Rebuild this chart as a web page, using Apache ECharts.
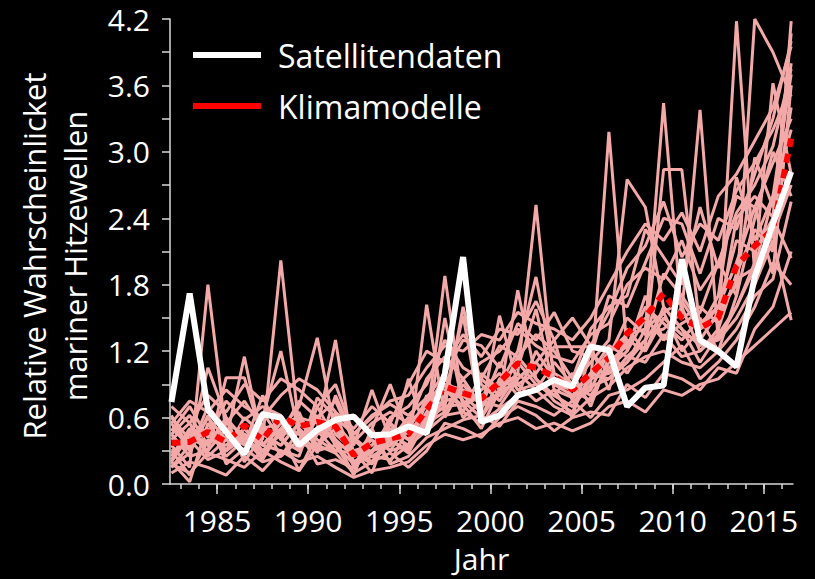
<!DOCTYPE html>
<html><head><meta charset="utf-8">
<script src="https://cdn.jsdelivr.net/npm/echarts@6/dist/echarts.min.js"></script>
<style>html,body{margin:0;padding:0;background:#000}#c{width:815px;height:579px}</style>
</head><body><div id="c"></div>
<script>
const years = [1982,1983,1984,1985,1986,1987,1988,1989,1990,1991,1992,1993,1994,1995,1996,1997,1998,1999,2000,2001,2002,2003,2004,2005,2006,2007,2008,2009,2010,2011,2012,2013,2014,2015,2016];
const satellite = [0.74,1.72,0.67,0.47,0.27,0.63,0.60,0.35,0.49,0.58,0.61,0.44,0.45,0.52,0.46,1.00,2.05,0.56,0.62,0.80,0.85,0.94,0.88,1.24,1.21,0.70,0.87,0.89,2.03,1.30,1.20,1.06,1.87,2.35,2.82];
const modelMean = [0.37,0.38,0.47,0.38,0.53,0.40,0.61,0.52,0.56,0.52,0.26,0.37,0.41,0.45,0.67,0.88,0.82,0.77,0.92,1.09,1.05,0.97,0.85,1.00,1.14,1.36,1.51,1.72,1.50,1.41,1.50,1.97,2.15,2.30,3.12];
const run01 = [0.35,0.15,1.80,0.45,0.30,0.55,0.25,0.40,0.62,0.35,0.10,0.45,0.30,0.55,0.70,0.95,0.75,0.60,0.85,1.10,0.90,0.80,0.70,0.95,1.00,1.30,1.20,1.60,1.40,1.10,1.35,4.18,1.90,2.40,3.40];
const run02 = [0.20,0.45,0.30,0.96,0.96,0.40,2.02,0.50,0.35,0.60,0.15,0.30,0.50,0.40,0.55,1.88,0.70,0.85,1.00,0.80,1.20,0.95,0.85,0.75,1.10,1.25,1.60,1.45,1.30,1.50,1.20,1.70,4.20,3.90,3.50];
const run03 = [0.55,0.30,0.60,0.40,1.15,0.35,0.50,0.70,1.32,0.45,0.30,0.20,0.45,0.35,0.80,0.70,1.60,0.90,0.75,1.00,2.52,0.90,0.80,1.00,0.95,1.10,1.30,1.90,1.70,1.45,1.60,2.20,2.10,2.40,2.04];
const run04 = [0.15,0.35,0.50,0.25,0.40,0.60,1.20,0.45,0.50,1.30,0.25,0.40,0.20,0.50,0.60,0.75,0.80,0.65,1.52,0.90,1.00,1.24,1.24,1.24,0.85,1.40,1.20,1.50,1.35,1.30,1.55,1.80,2.95,2.50,3.80];
const run05 = [0.30,0.08,0.40,0.35,0.50,0.30,0.45,0.12,0.45,0.55,0.35,0.85,0.40,0.30,1.62,0.60,0.90,0.70,0.80,1.75,0.95,0.80,0.70,0.90,3.18,1.20,1.50,1.30,1.60,1.20,1.40,1.90,2.30,2.10,4.18];
const run06 = [0.60,0.40,0.35,0.55,0.45,0.25,0.60,0.30,0.50,0.40,0.08,0.50,0.90,0.45,0.50,1.50,0.70,0.80,0.90,1.20,1.87,1.00,0.90,1.10,1.30,2.75,2.50,1.60,1.40,1.25,1.30,1.60,2.00,3.62,2.80];
const run07 = [0.25,0.50,0.45,0.30,0.60,0.45,0.35,0.55,0.40,0.30,0.40,0.25,0.35,0.95,0.45,0.80,1.52,0.60,0.95,1.05,1.58,0.85,0.60,1.20,1.00,1.10,1.40,3.44,1.50,1.60,1.45,2.40,2.60,2.41,4.07];
const run08 = [0.45,0.25,0.30,0.50,0.35,0.65,0.40,0.30,0.60,0.50,0.30,0.35,0.55,0.40,0.65,1.00,0.60,0.75,0.70,0.95,1.10,1.30,0.75,0.85,1.20,1.00,1.25,2.84,2.84,1.40,1.70,2.77,2.20,2.60,3.20];
const run09 = [0.40,0.55,0.25,0.40,0.30,0.50,0.55,0.45,0.30,0.65,0.20,0.30,0.40,0.60,0.55,0.65,0.95,0.70,1.10,0.85,0.90,0.80,1.00,0.70,1.15,1.50,1.35,1.40,1.55,3.38,1.30,1.50,1.80,2.20,1.48];
const run10 = [0.20,0.02,0.55,0.30,0.45,0.35,0.30,0.25,0.70,0.40,0.25,0.45,0.30,0.35,0.60,0.90,0.65,1.00,0.85,1.00,0.85,1.10,0.90,0.80,1.05,1.20,1.70,1.30,1.45,1.55,2.00,1.70,2.40,3.00,2.60];
const run11 = [0.50,0.35,1.05,0.60,0.40,0.30,0.45,0.60,0.35,0.50,0.30,0.10,0.55,0.30,0.75,0.85,0.70,0.95,0.80,1.15,0.95,0.75,0.65,1.00,1.25,1.15,1.30,1.55,1.20,1.40,1.60,2.00,2.50,1.90,3.60];
const run12 = [0.70,0.55,0.80,0.65,0.90,0.75,0.95,0.85,0.70,0.90,0.45,0.60,0.75,0.80,1.05,1.25,1.20,1.35,1.30,1.55,1.45,1.40,1.30,1.50,1.80,2.10,2.35,2.20,2.45,2.10,2.60,2.80,3.10,3.40,3.95];
const run13 = [0.10,0.20,0.15,0.08,0.25,0.12,0.30,0.20,0.25,0.15,0.06,0.12,0.15,0.20,0.35,0.45,0.40,0.45,0.55,0.60,0.50,0.55,0.48,0.55,0.70,0.75,0.65,0.85,0.80,0.90,0.95,1.10,1.25,1.40,1.55];
const run14 = [0.55,0.75,0.65,0.85,0.70,0.60,0.80,0.95,0.85,0.65,0.50,0.70,0.55,0.90,1.20,1.10,1.35,1.15,1.40,1.35,1.65,1.30,1.50,1.25,1.55,1.95,2.15,2.55,2.05,2.35,2.20,2.65,2.90,3.20,3.60];
const run15 = [0.18,0.10,0.28,0.22,0.15,0.30,0.20,0.12,0.35,0.28,0.10,0.20,0.28,0.15,0.30,0.55,0.50,0.42,0.60,0.70,0.62,0.48,0.60,0.65,0.62,0.90,0.78,1.00,0.95,0.85,1.05,1.00,1.40,1.60,2.10];
const run16 = [0.45,0.62,0.35,0.55,0.75,0.50,0.45,0.75,0.60,0.75,0.38,0.55,0.65,0.55,0.95,1.15,0.95,1.10,1.20,1.40,1.25,1.15,1.10,1.35,1.45,1.80,1.95,1.85,2.20,1.75,2.00,2.45,2.70,3.05,3.75];
const run17 = [0.28,0.40,0.22,0.30,0.42,0.22,0.50,0.38,0.30,0.35,0.18,0.25,0.22,0.35,0.48,0.62,0.65,0.55,0.68,0.80,0.85,0.70,0.62,0.78,0.88,1.05,1.15,1.20,1.10,1.05,1.20,1.40,1.70,1.85,2.55];
const run18 = [0.30,0.35,0.50,0.30,0.50,0.35,0.55,0.60,0.55,0.50,0.25,0.30,0.35,0.50,0.75,0.90,0.85,0.75,0.80,0.95,1.10,0.90,0.85,0.95,1.20,1.35,1.40,1.55,1.65,1.40,1.50,1.85,1.95,2.60,3.70];
const run19 = [0.62,0.30,0.70,0.50,0.35,0.80,0.40,0.65,0.28,0.80,0.42,0.28,0.60,0.70,0.90,1.30,1.05,0.95,1.25,1.15,1.35,1.20,0.95,1.40,1.60,1.70,2.30,2.05,1.80,2.50,1.95,2.60,2.50,2.90,3.30];
const run20 = [0.15,0.28,0.62,0.18,0.32,0.20,0.25,0.48,0.18,0.22,0.14,0.50,0.18,0.25,0.42,0.50,0.58,0.62,0.52,0.75,0.70,0.62,0.75,0.60,0.80,0.85,0.95,1.10,1.25,0.95,1.10,1.30,1.60,2.00,1.80];
const run21 = [0.48,0.70,0.42,0.75,0.58,0.70,0.62,0.30,0.78,0.60,0.45,0.62,0.72,0.62,0.78,1.00,1.30,1.25,1.05,1.45,1.30,1.55,1.20,1.15,1.70,1.60,2.00,2.40,2.35,1.90,2.40,2.30,2.80,3.30,4.00];
const run22 = [0.22,0.48,0.35,0.60,0.20,0.45,0.35,0.55,0.48,0.30,0.28,0.18,0.40,0.28,0.58,0.70,0.72,0.50,0.85,0.90,0.75,0.85,0.78,0.88,0.95,1.15,1.10,1.35,1.15,1.20,1.35,1.60,1.95,2.25,2.70];
const xLabelYears = [1985,1990,1995,2000,2005,2010,2015];
const xMinorYears = [1983,1984,1985,1986,1987,1988,1989,1990,1991,1992,1993,1994,1995,1996,1997,1998,1999,2000,2001,2002,2003,2004,2005,2006,2007,2008,2009,2010,2011,2012,2013,2014,2015,2016];
const yLabelValues = [0,0.6,1.2,1.8,2.4,3.0,3.6,4.2];

const FONT = '"Open Sans", "Noto Sans", sans-serif';
const AXIS_COLOR = '#d8d8d8';
const modelRuns = [run01,run02,run03,run04,run05,run06,run07,run08,run09,run10,run11,run12,run13,run14,run15,run16,run17,run18,run19,run20,run21,run22];
function pairs(vals){ return years.map((y,i)=>[y+0.5, vals[i]]); }

const chart = echarts.init(document.getElementById('c'), null, {renderer:'svg'});
const series = modelRuns.map((r,i)=>({
  name:'Modelllauf '+(i+1), type:'line', data:pairs(r), symbol:'none', silent:true, clip:false,
  lineStyle:{color:'#f3a9a8', width:3}, itemStyle:{color:'#f3a9a8'}, z:2
}));
series.push({name:'Klimamodelle', type:'line', data:pairs(modelMean), symbol:'none', clip:false,
  lineStyle:{color:'#ff0000', width:6, type:[9,7]}, itemStyle:{color:'#ff0000'}, z:3});
series.push({name:'Satellitendaten', type:'line', data:pairs(satellite), symbol:'none', clip:false,
  lineStyle:{color:'#ffffff', width:6}, itemStyle:{color:'#ffffff'}, z:4});

chart.setOption({
  backgroundColor:'#000',
  animation:false,
  grid:{left:170, right:22, top:19, bottom:95, containLabel:false},
  legend:{
    data:['Satellitendaten','Klimamodelle'], orient:'vertical', left:193, top:39, padding:0,
    icon:'rect', itemWidth:68, itemHeight:6, itemGap:19, selectedMode:false,
    textStyle:{color:'#fff', fontSize:32, fontFamily:FONT, padding:[0,0,0,12]}
  },
  xAxis:[{
    type:'value', min:1982.42, max:2016.6, position:'bottom',
    axisLine:{show:true, onZero:false, lineStyle:{color:AXIS_COLOR, width:1.5}},
    axisTick:{show:true, customValues:xLabelYears, length:10, lineStyle:{color:AXIS_COLOR, width:1.5}},
    axisLabel:{customValues:xLabelYears, formatter:v=>String(Math.round(v)), color:'#fff', fontSize:30, fontFamily:FONT, margin:21},
    splitLine:{show:false},
    name:'Jahr', nameLocation:'middle', nameGap:59,
    nameTextStyle:{color:'#fff', fontSize:30, fontFamily:FONT}
  },{
    type:'value', min:1982.42, max:2016.6, position:'bottom',
    axisLine:{show:false, onZero:false},
    axisTick:{show:true, customValues:xMinorYears, length:5, lineStyle:{color:AXIS_COLOR, width:1.5}},
    axisLabel:{show:false}, splitLine:{show:false}
  }],
  yAxis:{
    type:'value', min:0, max:4.2, interval:0.3,
    axisLine:{show:true, lineStyle:{color:AXIS_COLOR, width:1.5}},
    axisTick:{show:true, length:8, lineStyle:{color:AXIS_COLOR, width:1.5}},
    axisLabel:{customValues:yLabelValues, formatter:v=>Number(v).toFixed(1), color:'#fff', fontSize:30, fontFamily:FONT, margin:20},
    splitLine:{show:false}
  },
  graphic:[
    {type:'text', x:34, y:256, rotation:Math.PI/2,
     style:{text:'Relative Wahrscheinlicket', fill:'#fff', font:'31px "Open Sans", "Noto Sans", sans-serif', align:'center', verticalAlign:'middle', textAlign:'center', textVerticalAlign:'middle'}},
    {type:'text', x:75, y:256, rotation:Math.PI/2,
     style:{text:'mariner Hitzewellen', fill:'#fff', font:'31px "Open Sans", "Noto Sans", sans-serif', align:'center', verticalAlign:'middle', textAlign:'center', textVerticalAlign:'middle'}}
  ],
  series:series
});
</script></body></html>
